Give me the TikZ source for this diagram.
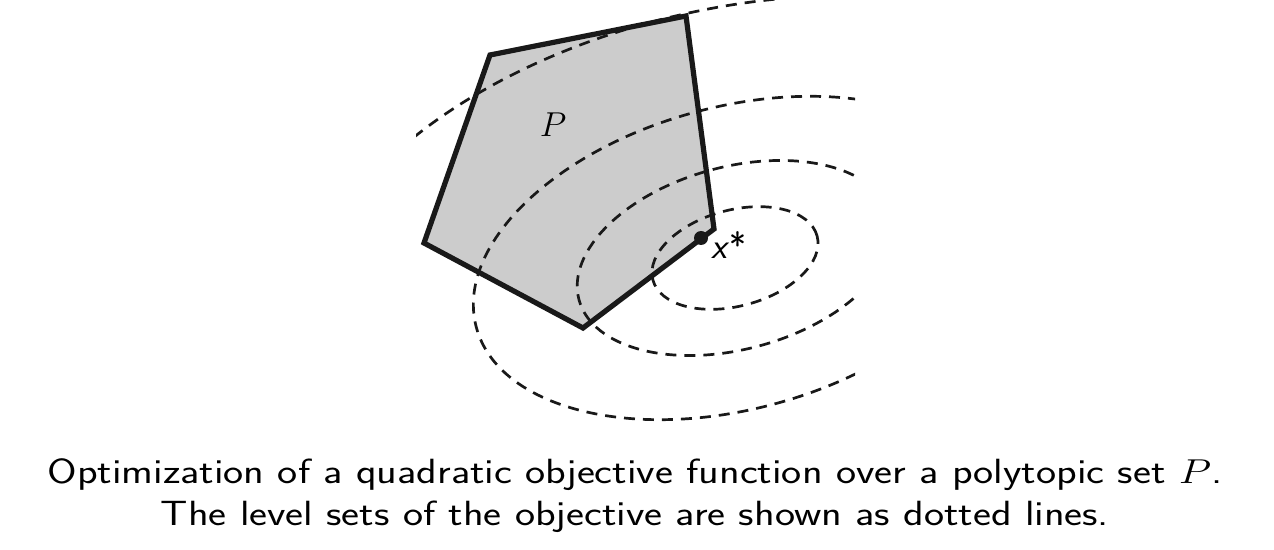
\documentclass[tikz,border=0pt]{standalone}
\usepackage{fontspec}
\begin{document}
\begin{tikzpicture}[x=0.5pt,y=-0.5pt,
  polyst/.style={draw=black!90,fill=black!20,line width=2.6pt,line join=miter},
  levelst/.style={draw=black!90,line width=1.35pt,dash pattern=on 5.5pt off 4pt},
  capst/.style={font=\sffamily\fontsize{17.5}{21}\selectfont,align=center,xscale=1.22}]
\useasboundingbox (0,0) rectangle (1274,550);
% polytope
\coordinate (v1) at (490,55);
\coordinate (v2) at (686,16);
\coordinate (v3) at (714,229);
\coordinate (v4) at (583,328);
\coordinate (v5) at (424,243);
\path[polyst] (v1) -- (v2) -- (v3) -- (v4) -- (v5) -- cycle;
% level sets
\coordinate (c) at (735,258);
\begin{scope}
\clip (416,0) rectangle (855,440);
\draw[levelst,shift={(c)},rotate=15] (0,0) ellipse [x radius=42.5pt, y radius=24pt];
\draw[levelst,shift={(c)},rotate=15] (0,0) ellipse [x radius=80.75pt, y radius=45.6pt];
\draw[levelst,shift={(c)},rotate=15] (0,0) ellipse [x radius=133.9pt, y radius=75.6pt];
\draw[levelst,shift={(c)},rotate=13] (0,0) ellipse [x radius=220.6pt, y radius=124.6pt];
\end{scope}
% optimum
\node[circle,fill=black!90,inner sep=0pt,minimum size=7pt] (opt) at (701,238) {};
\node[anchor=base west,font=\sffamily\fontsize{18}{20}\selectfont,inner sep=0pt] (xs) at (711,259) {\textsl{x}*};
\node[font=\fontsize{16}{18}\selectfont] (P) at (553,125) {$P$};
% caption
\node[capst,anchor=base] (cap) at (635,525) {Optimization of a quadratic objective function over a polytopic set $P$.\\The level sets of the objective are shown as dotted lines.};
\end{tikzpicture}
\end{document}
